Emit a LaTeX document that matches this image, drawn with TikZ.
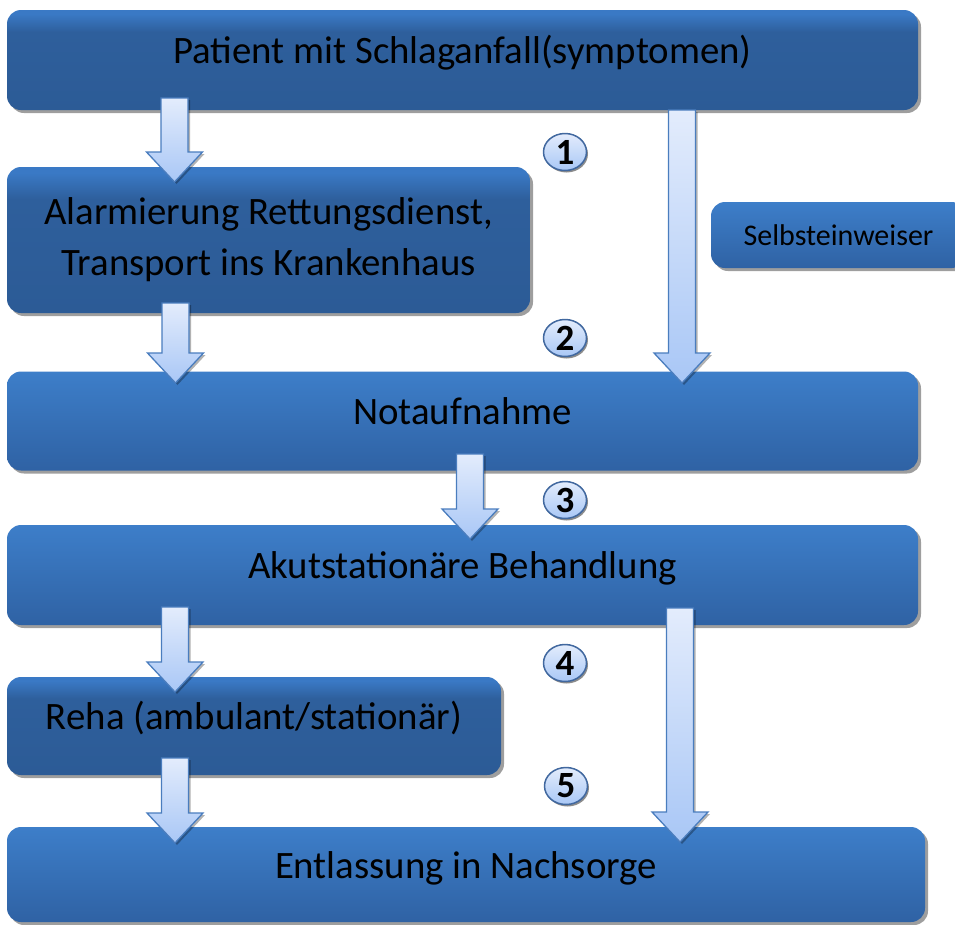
\documentclass[tikz,border=0pt]{standalone}
\usepackage{fontspec}
\setmainfont{Carlito}
\usetikzlibrary{shadows,calc,shapes.geometric}
\definecolor{dtop}{HTML}{3A79C5}
\definecolor{dmid}{HTML}{2E5F9C}
\definecolor{dbot}{HTML}{2C5B96}
\definecolor{ltop}{HTML}{3D7EC9}
\definecolor{lbot}{HTML}{2F62A4}
\definecolor{atop}{HTML}{E3ECFC}
\definecolor{abot}{HTML}{A9C7F6}
\definecolor{aline}{HTML}{4A7DBE}
\definecolor{cline}{HTML}{41689F}
\pgfdeclareverticalshading{darkbox}{100bp}{color(0bp)=(dbot); color(25bp)=(dbot); color(64bp)=(dmid); color(73bp)=(dtop); color(75bp)=(dtop); color(100bp)=(dtop)}
\newcommand\blockarrow[2]{%
  \shadedraw[arrowstyle] let \p1=(#1), \p2=(#2) in
    (\x1-13.5pt,\y1) -- (\x1+13.5pt,\y1) -- (\x1+13.5pt,\y2+30pt) -- (\x1+28pt,\y2+30pt)
    -- (\x1,\y2) -- (\x1-28pt,\y2+30pt) -- (\x1-13.5pt,\y2+30pt) -- cycle;}
\tikzset{
  box/.style={rectangle, rounded corners=14pt, inner sep=0pt, text=black,
    font=\fontsize{38.8}{51}\selectfont, align=center,
    drop shadow={shadow xshift=3pt, shadow yshift=-3pt, fill=black!38, opacity=1}},
  oneline/.style={text height=30pt, text depth=23pt},
  darkbox/.style={box, shading=darkbox},
  lightbox/.style={box, top color=ltop, bottom color=lbot},
  arrowstyle/.style={top color=atop, bottom color=abot, draw=aline, line width=1.3pt,
    line join=miter,
    drop shadow={shadow xshift=2pt, shadow yshift=-2pt, fill=black, opacity=0.3}},
  numc/.style={ellipse, minimum width=43pt, minimum height=37pt, inner sep=0pt,
    top color=atop, bottom color=abot, draw=cline, line width=1.5pt,
    font=\fontsize{37}{37}\selectfont\bfseries,
    drop shadow={shadow xshift=1.5pt, shadow yshift=-2pt, fill=black!45, opacity=1}}
}
\begin{document}
\begin{tikzpicture}[x=1pt,y=-1pt]
\useasboundingbox (0,0) rectangle (955,924);
% boxes
\node[darkbox, oneline, minimum width=911pt, minimum height=100pt] (P) at (462.5,60) {Patient mit Schlaganfall(symptomen)};
\node[darkbox, minimum width=523pt, minimum height=146pt] (A) at (268.5,240) {Alarmierung Rettungsdienst,\\Transport ins Krankenhaus};
\node[lightbox, minimum width=255pt, minimum height=66pt, font=\fontsize{30}{32}\selectfont] (S) at (838.5,235) {Selbsteinweiser};
\node[lightbox, oneline, minimum width=911pt, minimum height=99pt] (N) at (462.5,421) {Notaufnahme};
\node[lightbox, oneline, minimum width=911pt, minimum height=100pt] (K) at (462.5,575) {Akutstationäre Behandlung};
\node[darkbox, oneline, minimum width=494pt, minimum height=98pt] (R) at (254,726) {Reha (ambulant/stationär)};
\node[lightbox, oneline, minimum width=918pt, minimum height=95pt] (E) at (466,874.5) {Entlassung in Nachsorge};
% arrow end points
\coordinate (a1s) at (174.5,98);  \coordinate (a1e) at (174.5,182);
\coordinate (a2s) at (682,110);   \coordinate (a2e) at (682,383);
\coordinate (a3s) at (175.5,303); \coordinate (a3e) at (175.5,383);
\coordinate (a4s) at (470,454);   \coordinate (a4e) at (470,539);
\coordinate (a5s) at (175,607);   \coordinate (a5e) at (175,692);
\coordinate (a6s) at (680,608);   \coordinate (a6e) at (680,842);
\coordinate (a7s) at (175,758);   \coordinate (a7e) at (175,843);
\blockarrow{a1s}{a1e}
\blockarrow{a2s}{a2e}
\blockarrow{a3s}{a3e}
\blockarrow{a4s}{a4e}
\blockarrow{a5s}{a5e}
\blockarrow{a6s}{a6e}
\blockarrow{a7s}{a7e}
% numbers
\node[numc] (c1) at (565,152) {1};
\node[numc] (c2) at (565,338) {2};
\node[numc] (c3) at (565,500) {3};
\node[numc] (c4) at (565,663) {4};
\node[numc] (c5) at (566,786) {5};
\end{tikzpicture}
\end{document}
